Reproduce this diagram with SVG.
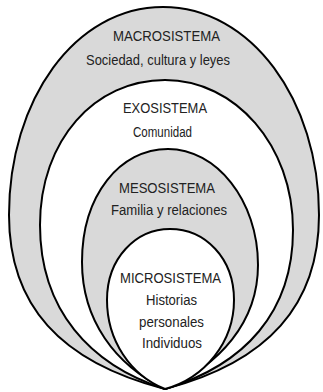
<svg xmlns="http://www.w3.org/2000/svg" width="323" height="392" viewBox="0 0 323 392">
<style>
.ring{stroke:#000;stroke-width:2;}
.g{fill:#d9d9d9;}
.w{fill:#fff;}
text{font-family:"Liberation Sans",Arial,sans-serif;font-size:15.5px;fill:#222;text-anchor:middle;}
</style>
<rect width="323" height="392" fill="#fff"/>
<g id="macrosistema">
<path class="ring g" d="M165,389 C60,362 9,305 9,215 C9,100 75,7 163,7 C251,7 319,100 319,215 C319,305 268,362 165,389 Z"/>
<text x="166.5" y="41" textLength="107" lengthAdjust="spacingAndGlyphs">MACROSISTEMA</text>
<text x="158" y="65" textLength="144" lengthAdjust="spacingAndGlyphs">Sociedad, cultura y leyes</text>
</g>
<g id="exosistema">
<path class="ring w" d="M165,389 C90,365 40,310 40,225 C40,140 95,80 165,80 C235,80 293,145 293,230 C293,312 245,365 165,389 Z"/>
<text x="165" y="113" textLength="84" lengthAdjust="spacingAndGlyphs">EXOSISTEMA</text>
<text x="162.5" y="137" textLength="59" lengthAdjust="spacingAndGlyphs">Comunidad</text>
</g>
<g id="mesosistema">
<path class="ring g" d="M165,389 C115,365 82,320 82,262 C82,195 120,149 168,149 C216,149 258,200 258,265 C258,322 220,365 165,389 Z"/>
<text x="167" y="193" textLength="96" lengthAdjust="spacingAndGlyphs">MESOSISTEMA</text>
<text x="169" y="215" textLength="116" lengthAdjust="spacingAndGlyphs">Familia y relaciones</text>
</g>
<g id="microsistema">
<path class="ring w" d="M165,389 C130,375 107,340 107,300 C107,258 136,229 170,229 C205,229 234,258 234,300 C234,342 205,378 165,389 Z"/>
<text x="170.5" y="283" textLength="101" lengthAdjust="spacingAndGlyphs">MICROSISTEMA</text>
<text x="171.5" y="305" textLength="51" lengthAdjust="spacingAndGlyphs">Historias</text>
<text x="171.5" y="327" textLength="65" lengthAdjust="spacingAndGlyphs">personales</text>
<text x="172" y="348" textLength="60" lengthAdjust="spacingAndGlyphs">Individuos</text>
</g>
<g id="connectors"></g>
</svg>
